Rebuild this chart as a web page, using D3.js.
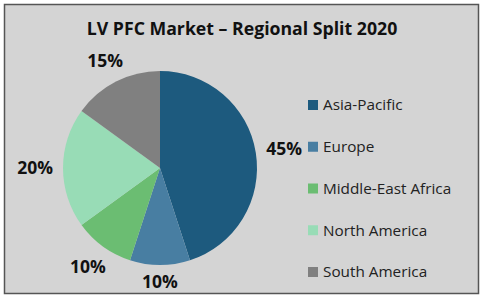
<!DOCTYPE html>
<html><head><meta charset="utf-8">
<script src="https://cdn.jsdelivr.net/npm/d3@7"></script>
<style>html,body{margin:0;padding:0;background:#fff;}svg{display:block;}</style>
</head><body>
<svg id="c" width="485" height="300"></svg>
<script>
const categories = ["Asia-Pacific","Europe","Middle-East Africa","North America","South America"];
const values = [45,10,10,20,15];
const colors = ["#1d5a7e","#487ea2","#6bbd72","#98dcb6","#808080"];
const title = "LV PFC Market \u2013 Regional Split 2020";

const svg = d3.select("#c");
const FONT = "'Open Sans', 'Noto Sans', sans-serif";
svg.append("rect").attr("x",4.5).attr("y",4.5).attr("width",474).attr("height",289)
  .attr("fill","#d4d4d4").attr("stroke","#555").attr("stroke-width",1.5);

svg.append("text").attr("x",242).attr("y",35).attr("text-anchor","middle")
  .attr("font-family",FONT).attr("font-weight","bold")
  .attr("font-size",17.7).attr("fill","#111").text(title);

const cx=160, cy=168, r=97;
const pie = d3.pie().sort(null).value(d=>d);
const arcs = pie(values);
const arc = d3.arc().innerRadius(0).outerRadius(r);
const g = svg.append("g").attr("transform",`translate(${cx},${cy})`);
g.selectAll("path").data(arcs).enter().append("path")
  .attr("d",arc).attr("fill",(d,i)=>colors[i]);
const fs = 17.5, capH = fs*0.72, gap = 10;
g.selectAll("text").data(arcs).enter().append("text")
  .attr("text-anchor","middle")
  .attr("font-family",FONT).attr("font-weight","bold")
  .attr("font-size",fs).attr("fill","#111")
  .text(d=>d.data+"%")
  .each(function(d){
    const w = this.getComputedTextLength();
    const a = (d.startAngle+d.endAngle)/2;
    const dx = Math.sin(a), dy = -Math.cos(a);
    const ext = Math.abs(dx)*w/2 + Math.abs(dy)*capH/2;
    const dist = r + gap + ext;
    d3.select(this).attr("x", dx*dist).attr("y", dy*dist + capH/2);
  });

const y = d3.scalePoint().domain(categories).range([105,272]);
const lg = svg.append("g");
categories.forEach((c,i)=>{
  lg.append("rect").attr("x",308).attr("y",y(c)-5).attr("width",10).attr("height",10).attr("fill",colors[i]);
  lg.append("text").attr("x",323).attr("y",y(c)).attr("dy","0.35em")
    .attr("font-family",FONT).attr("font-size",15.3).attr("fill","#222").text(c);
});
</script>
</body></html>
